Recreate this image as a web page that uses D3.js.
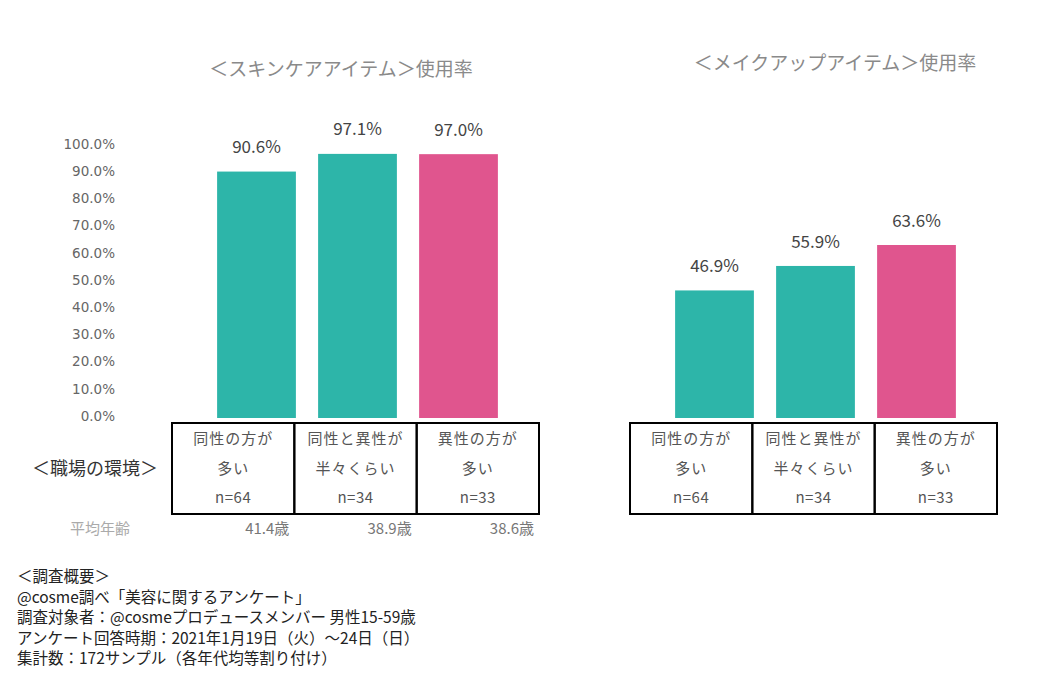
<!DOCTYPE html>
<html>
<head>
<meta charset="utf-8">
<script src="https://cdn.jsdelivr.net/npm/d3@7"></script>
<style>
  html, body { margin: 0; padding: 0; background: #fff; }
  svg { display: block; font-family: "Noto Sans CJK JP", "Noto Sans", sans-serif; }
</style>
</head>
<body>
<svg id="chart" width="1050" height="680"></svg>
<script>
// ---- data ----
const categories = ["same", "half", "opposite"];
const categoryLine1 = ["同性の方が", "同性と異性が", "異性の方が"];
const categoryLine2 = ["多い", "半々くらい", "多い"];
const sampleSizes = ["n=64", "n=34", "n=33"];
const averageAges = ["41.4歳", "38.9歳", "38.6歳"];
const skincareValues = [90.6, 97.1, 97.0];
const makeupValues = [46.9, 55.9, 63.6];
const barColors = ["#2db5a9", "#2db5a9", "#e0558e"];
const yTicks = [0, 10, 20, 30, 40, 50, 60, 70, 80, 90, 100];
const chartTitles = ["＜スキンケアアイテム＞使用率", "＜メイクアップアイテム＞使用率"];
const footerLines = [
  "＜調査概要＞",
  "@cosme調べ「美容に関するアンケート」",
  "調査対象者：@cosmeプロデュースメンバー 男性15-59歳",
  "アンケート回答時期：2021年1月19日（火）～24日（日）",
  "集計数：172サンプル（各年代均等割り付け）"
];

const svg = d3.select("#chart");
const y = d3.scaleLinear().domain([0, 100]).range([418, 146]);

const panels = [
  { values: skincareValues, title: chartTitles[0], titleX: 341, titleY: 71,
    barRange: [206, 509], tableRange: [172, 539] },
  { values: makeupValues, title: chartTitles[1], titleX: 835, titleY: 65,
    barRange: [664, 967], tableRange: [630, 997] }
];

panels.forEach((p, pi) => {
  const g = svg.append("g");
  const x = d3.scaleBand().domain(categories).range(p.barRange)
    .paddingInner(0.22).paddingOuter(0.11);
  const xt = d3.scaleBand().domain(categories).range(p.tableRange).padding(0);

  // title
  g.append("text").attr("x", p.titleX).attr("y", p.titleY)
    .attr("text-anchor", "middle").attr("dominant-baseline", "middle")
    .attr("font-size", 19).attr("fill", "#8a8a8a").text(p.title);

  // bars
  g.selectAll("rect.bar").data(p.values).join("rect")
    .attr("class", "bar")
    .attr("x", (d, i) => x(categories[i]))
    .attr("width", x.bandwidth())
    .attr("y", d => y(d))
    .attr("height", d => y(0) - y(d))
    .attr("fill", (d, i) => barColors[i]);

  // value labels
  g.selectAll("text.val").data(p.values).join("text")
    .attr("class", "val")
    .attr("x", (d, i) => x(categories[i]) + x.bandwidth() / 2)
    .attr("y", d => y(d) - 23)
    .attr("text-anchor", "middle").attr("dominant-baseline", "middle")
    .attr("font-size", 17).attr("fill", "#444")
    .text(d => d.toFixed(1) + "%");

  // table
  const top = 423, bottom = 514;
  g.selectAll("rect.cell").data(categories).join("rect")
    .attr("class", "cell")
    .attr("x", d => xt(d)).attr("y", top)
    .attr("width", xt.bandwidth()).attr("height", bottom - top)
    .attr("fill", "none").attr("stroke", "#000").attr("stroke-width", 2);

  const rows = [categoryLine1, categoryLine2, sampleSizes];
  const rowY = [440, 470, 499];
  rows.forEach((row, ri) => {
    g.selectAll("text.row" + ri).data(row).join("text")
      .attr("class", "row" + ri)
      .attr("x", (d, i) => xt(categories[i]) + xt.bandwidth() / 2)
      .attr("y", rowY[ri])
      .attr("text-anchor", "middle").attr("dominant-baseline", "middle")
      .attr("font-size", 15).attr("letter-spacing", ri < 2 ? 1 : 0.5)
      .attr("fill", "#555").text(d => d);
  });

  if (pi === 0) {
    // y axis labels
    const axis = d3.axisLeft(y).tickValues(yTicks)
      .tickFormat(d => d.toFixed(1) + "%").tickSize(0).tickPadding(0);
    const ag = g.append("g").attr("transform", "translate(115,-2)").call(axis);
    ag.select(".domain").remove();
    ag.selectAll("text").attr("font-size", 13.5).attr("fill", "#666")
      .attr("font-family", "'DejaVu Sans', sans-serif");

    // ages
    g.selectAll("text.age").data(averageAges).join("text")
      .attr("class", "age")
      .attr("x", (d, i) => xt(categories[i]) + xt.bandwidth() - 5)
      .attr("y", 530)
      .attr("text-anchor", "end").attr("dominant-baseline", "middle")
      .attr("font-size", 15).attr("fill", "#777").text(d => d);

    g.append("text").attr("x", 95).attr("y", 470)
      .attr("text-anchor", "middle").attr("dominant-baseline", "middle")
      .attr("font-size", 18).attr("fill", "#333").text("＜職場の環境＞");

    g.append("text").attr("x", 100).attr("y", 530)
      .attr("text-anchor", "middle").attr("dominant-baseline", "middle")
      .attr("font-size", 15).attr("fill", "#aaa").text("平均年齢");
  }
});

// footer
svg.append("g").selectAll("text").data(footerLines).join("text")
  .attr("x", 17).attr("y", (d, i) => 578 + i * 20.5)
  .attr("dominant-baseline", "middle")
  .attr("font-size", 15.5).attr("fill", "#222").text(d => d);
</script>
</body>
</html>
